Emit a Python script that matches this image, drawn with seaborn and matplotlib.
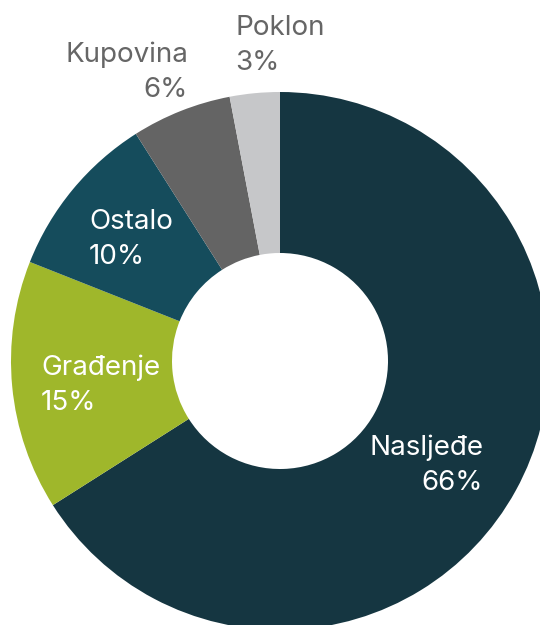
import matplotlib.pyplot as plt
import seaborn as sns

categories = ["Nasljeđe", "Građenje", "Ostalo", "Kupovina", "Poklon"]
shares = [66, 15, 10, 6, 3]
colors = ["#153641", "#9fb72b", "#154c5c", "#646464", "#c6c7c9"]

sns.set_theme(style="white")
plt.rcParams['font.family'] = ['Inter', 'DejaVu Sans']

fig = plt.figure(figsize=(5.4, 6.25), dpi=100)
ax = fig.add_axes([0, 0, 1, 1])

ax.pie(shares, colors=colors, startangle=90, counterclock=False,
       center=(280, 264), radius=269, frame=True,
       wedgeprops=dict(width=161, linewidth=0))
ax.set_xlim(0, 540)
ax.set_ylim(0, 625)
ax.set_aspect('equal')
ax.axis('off')

fs = 20
# (x, baseline y from top, alignment, colour)
labels = {
    "Nasljeđe": (483, 455, 'right', 'white'),
    "Građenje": (41, 375, 'left', 'white'),
    "Ostalo": (89, 229, 'left', 'white'),
    "Kupovina": (188, 62, 'right', '#666666'),
    "Poklon": (235, 35, 'left', '#666666'),
}
for name, val in zip(categories, shares):
    x, yb, ha, c = labels[name]
    ax.text(x, 625 - yb, name, ha=ha, va='baseline', color=c, fontsize=fs)
    ax.text(x, 625 - yb - 35, f"{val}%", ha=ha, va='baseline', color=c, fontsize=fs)

fig.savefig("out.png", dpi=100)
